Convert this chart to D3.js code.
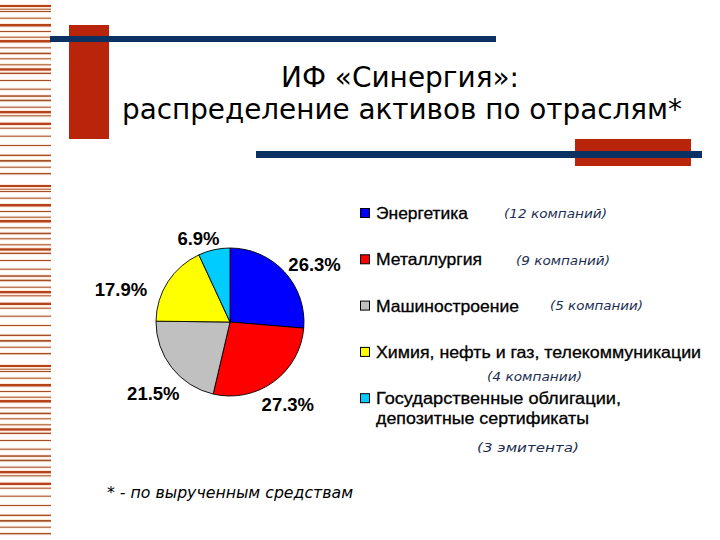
<!DOCTYPE html>
<html>
<head>
<meta charset="utf-8">
<script src="https://cdn.jsdelivr.net/npm/d3@7"></script>
<style>
  html, body { margin: 0; padding: 0; background: #ffffff; }
  svg { display: block; }
</style>
</head>
<body>
<svg id="chart" width="720" height="540"></svg>
<script>
// ---------- data ----------
const categories = [
  "Энергетика",
  "Металлургия",
  "Машиностроение",
  "Химия, нефть и газ, телекоммуникации",
  "Государственные облигации,\nдепозитные сертификаты"
];
const values = [26.3, 27.3, 21.5, 17.9, 6.9];
const valueLabels = ["26.3%", "27.3%", "21.5%", "17.9%", "6.9%"];
const companies = ["(12 компаний)", "(9 компаний)", "(5 компании)", "(4 компании)", "(3 эмитента)"];
const titleLines = ["ИФ «Синергия»:", "распределение активов по отраслям*"];
const footnote = "* - по вырученным средствам";

// ---------- styles / layout ----------
const colors = ["#0000ff", "#ff0000", "#c0c0c0", "#ffff00", "#00ccff"];
const stripePattern = [
  [5,2],[8.7,1],[11,1],[17.7,1],[24,2.5],[31,1],[36.7,1],[40,2.5],[47.3,1],[52.7,1.5],
  [58.3,1],[64.3,1],[68.3,2.3],[72.7,1.3],[80,1],[88.7,1],[95.3,1.5],[99.7,1.5],[106.7,1],
  [111,2.3],[115.3,1],[122.7,2.3],[127.7,1],[135.7,1],[145,1],[154.7,1.3],[160,1.7],
  [166.7,1],[173,1.3]
];
const labelNudge = [[11,10],[-1,2],[2,10],[-25,22],[-10,14]];
const notePos = [[504,218],[516,265],[550,310],[487,381],[477,452]];
const noteWidths = [103, 94, 93, 95, 102];
const legendWidths = [[92],[106],[143],[325],[245,213]];

const svg = d3.select("#chart");

// ---------- decorative stripes ----------
const stripes = [];
[0, 180, 360].forEach(off => stripePattern.forEach(([y, h]) => {
  if (y + off < 540) stripes.push([y + off, h]);
}));
const sg = svg.append("g");
sg.selectAll("rect.halo").data(stripes).join("rect")
  .attr("x", 0).attr("width", 51)
  .attr("y", d => d[0] - 1).attr("height", d => d[1] + 2)
  .attr("fill", "#fde8da");
sg.selectAll("rect.line").data(stripes).join("rect")
  .attr("x", 0).attr("width", 51)
  .attr("y", d => d[0]).attr("height", d => d[1])
  .attr("fill", d => d[1] >= 2 ? "#b5421b" : "#a4502a");

// ---------- decorative bars ----------
svg.append("rect").attr("x", 69).attr("y", 25).attr("width", 40).attr("height", 114).attr("fill", "#b8250b");
svg.append("rect").attr("x", 50).attr("y", 36).attr("width", 446).attr("height", 6).attr("fill", "#0b3162");
svg.append("rect").attr("x", 575).attr("y", 139).attr("width", 116).attr("height", 27).attr("fill", "#b8250b");
svg.append("rect").attr("x", 256).attr("y", 151).attr("width", 446).attr("height", 7).attr("fill", "#0b3162");

// ---------- title ----------
const titleG = svg.append("g").attr("font-family", "'DejaVu Sans', Tahoma, sans-serif")
  .attr("font-size", 28).attr("fill", "#000");
titleG.append("text").attr("x", 281).attr("y", 87).attr("textLength", 238)
  .attr("lengthAdjust", "spacingAndGlyphs").text(titleLines[0]);
titleG.append("text").attr("x", 122).attr("y", 119).attr("textLength", 560)
  .attr("lengthAdjust", "spacingAndGlyphs").text(titleLines[1]);

// ---------- pie ----------
const cx = 230, cy = 322, r = 74;
const pie = d3.pie().sort(null).value(d => d)(values);
const arc = d3.arc().innerRadius(0).outerRadius(r);
const pg = svg.append("g").attr("transform", `translate(${cx},${cy})`);
pg.selectAll("path").data(pie).join("path")
  .attr("d", arc)
  .attr("fill", (d, i) => colors[i])
  .attr("stroke", "#000").attr("stroke-width", 0.9).attr("stroke-linejoin", "round");

const labelR = 100;
pg.selectAll("text").data(pie).join("text")
  .attr("x", (d, i) => Math.sin((d.startAngle + d.endAngle) / 2) * labelR + labelNudge[i][0])
  .attr("y", (d, i) => -Math.cos((d.startAngle + d.endAngle) / 2) * labelR + labelNudge[i][1])
  .attr("text-anchor", "middle").attr("dominant-baseline", "central")
  .attr("font-family", "'Liberation Sans', Arial, sans-serif")
  .attr("font-weight", "bold").attr("font-size", 18.5).attr("fill", "#000")
  .text((d, i) => valueLabels[i]);

// ---------- legend ----------
const lg = svg.append("g");
const baseY = i => 219 + i * 46.3;
categories.forEach((c, i) => {
  const y = baseY(i);
  lg.append("rect").attr("x", 360.5).attr("y", y - 10.5).attr("width", 9).attr("height", 9)
    .attr("fill", colors[i]).attr("stroke", "#000").attr("stroke-width", 1);
  c.split("\n").forEach((line, j) => {
    lg.append("text").attr("x", 376).attr("y", y + j * 19.5)
      .attr("font-family", "'Liberation Sans', Arial, sans-serif")
      .attr("font-size", 16.5).attr("fill", "#000")
      .attr("stroke", "#000").attr("stroke-width", 0.3)
      .attr("textLength", legendWidths[i][j]).attr("lengthAdjust", "spacingAndGlyphs")
      .text(line);
  });
  lg.append("text").attr("x", notePos[i][0]).attr("y", notePos[i][1])
    .attr("font-family", "'DejaVu Sans', Verdana, sans-serif")
    .attr("font-style", "italic").attr("font-size", 13).attr("fill", "#1c2f52")
    .attr("textLength", noteWidths[i]).attr("lengthAdjust", "spacingAndGlyphs")
    .text(companies[i]);
});

// ---------- footnote ----------
svg.append("text").attr("x", 107).attr("y", 498)
  .attr("font-family", "'DejaVu Sans', Tahoma, sans-serif")
  .attr("font-style", "italic").attr("font-size", 15).attr("fill", "#000")
  .attr("textLength", 246).attr("lengthAdjust", "spacingAndGlyphs")
  .text(footnote);
</script>
</body>
</html>
